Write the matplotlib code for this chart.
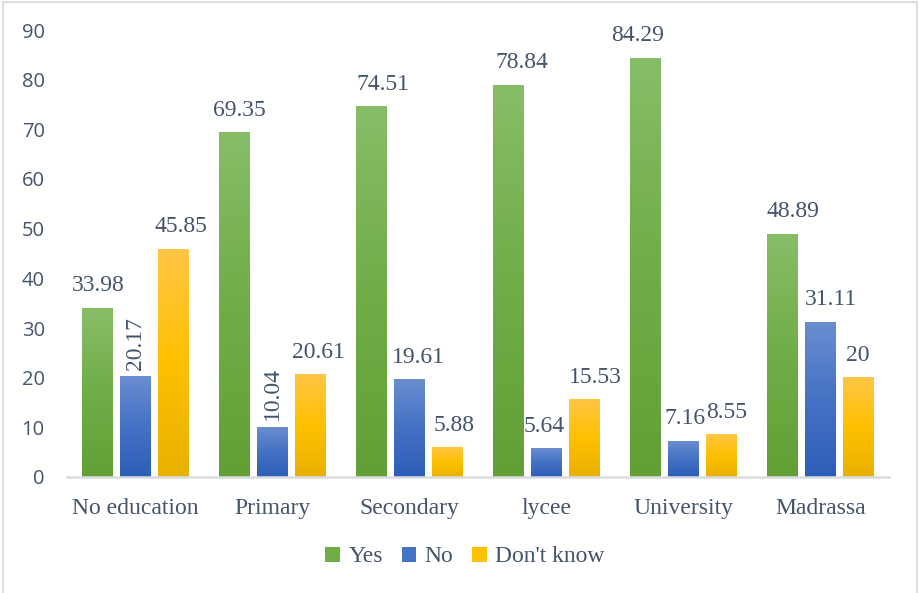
import matplotlib
matplotlib.use("Agg")
import matplotlib.pyplot as plt
import numpy as np
from matplotlib.colors import LinearSegmentedColormap
from matplotlib.lines import Line2D
from matplotlib.patches import Patch

categories = ["No education", "Primary", "Secondary", "lycee", "University", "Madrassa"]
series_names = ["Yes", "No", "Don't know"]
yes_vals = [33.98, 69.35, 74.51, 78.84, 84.29, 48.89]
no_vals = [20.17, 10.04, 19.61, 5.64, 7.16, 31.11]
dk_vals = [45.85, 20.61, 5.88, 15.53, 8.55, 20]
y_ticks = [0, 10, 20, 30, 40, 50, 60, 70, 80, 90]

# (top, middle, bottom) gradient stops per series
gradients = [
    ("#88BD68", "#70AD47", "#62A036"),
    ("#6B8DD0", "#4472C4", "#2D5DB7"),
    ("#FFC646", "#FFC000", "#E8B100"),
]
text_color = "#44546A"
label_font = "Liberation Serif"
label_size = 17

# labels too tall for the space above short bars are set vertically
rotated = {(1, 0), (1, 1)}
# small horizontal nudges (pixels) of the value labels, per series/category
nudges = [
    [0, 4, 11, 13, -8, 10],
    [0, 0, 9, -2, 2, 10],
    [8, 8, 7, 11, 6, 0],
]

fig = plt.figure(figsize=(9.19, 5.93), dpi=100)
ax = fig.add_axes([67 / 919, 1 - 477 / 593, (889 - 67) / 919, (477 - 30) / 593])

x = np.arange(len(categories))
width = 0.226
offsets = [-0.274, 0.0, 0.274]
all_vals = [yes_vals, no_vals, dk_vals]

grad = np.linspace(0, 1, 256).reshape(-1, 1)
for si, vals in enumerate(all_vals):
    cmap = LinearSegmentedColormap.from_list(f"g{si}", list(gradients[si]))
    bars = ax.bar(x + offsets[si], vals, width, color="none", edgecolor="none", zorder=2)
    for ci, b in enumerate(bars):
        bx, bw, bh = b.get_x(), b.get_width(), b.get_height()
        ax.imshow(grad, cmap=cmap, aspect="auto", extent=[bx, bx + bw, 0, bh],
                  origin="upper", zorder=2, interpolation="bilinear")
        v = vals[ci]
        label = f"{v:g}"
        if (si, ci) in rotated:
            ax.annotate(label, (bx + bw / 2, bh), xytext=(0, 7), textcoords="offset pixels",
                        ha="center", va="bottom", rotation=90, fontsize=label_size,
                        family=label_font, color=text_color)
        else:
            ax.annotate(label, (bx + bw / 2, bh), xytext=(nudges[si][ci], 12),
                        textcoords="offset pixels", ha="center", va="bottom",
                        fontsize=label_size, family=label_font, color=text_color)

ax.set_xlim(-0.5, len(categories) - 0.5)
ax.set_ylim(0, 90)
ax.set_yticks(y_ticks)
ax.set_yticklabels([str(t) for t in y_ticks], family="Open Sans", fontsize=14.5, color=text_color)
ax.set_xticks(x)
ax.set_xticklabels(categories, family=label_font, fontsize=label_size, color=text_color)
ax.tick_params(axis="y", length=0, pad=16)
ax.tick_params(axis="x", length=0, pad=15)
for side in ["top", "right", "left"]:
    ax.spines[side].set_visible(False)
ax.spines["bottom"].set_color("#D9DCE1")
ax.spines["bottom"].set_linewidth(1.8)
ax.spines["bottom"].set_zorder(3)

handles = [Patch(facecolor=gradients[i][1], edgecolor="none") for i in range(3)]
leg = fig.legend(handles, series_names, loc="center", bbox_to_anchor=(465 / 919, 1 - 557 / 593),
                 ncol=3, frameon=False, handlelength=0.62, handleheight=0.62, handletextpad=0.35,
                 columnspacing=0.8, prop={"family": label_font, "size": label_size})
for t in leg.get_texts():
    t.set_color(text_color)

# light frame around the chart area
frame_color = "#D9D9D9"
fig.add_artist(Line2D([3 / 919, 3 / 919], [0, 1 - 2 / 593], transform=fig.transFigure,
                      color=frame_color, lw=1.2))
fig.add_artist(Line2D([3 / 919, 917 / 919], [1 - 2 / 593, 1 - 2 / 593], transform=fig.transFigure,
                      color=frame_color, lw=1.2))
fig.add_artist(Line2D([917 / 919, 917 / 919], [0, 1 - 2 / 593], transform=fig.transFigure,
                      color=frame_color, lw=1.2))

fig.savefig("out.png", dpi=100, facecolor="white")
